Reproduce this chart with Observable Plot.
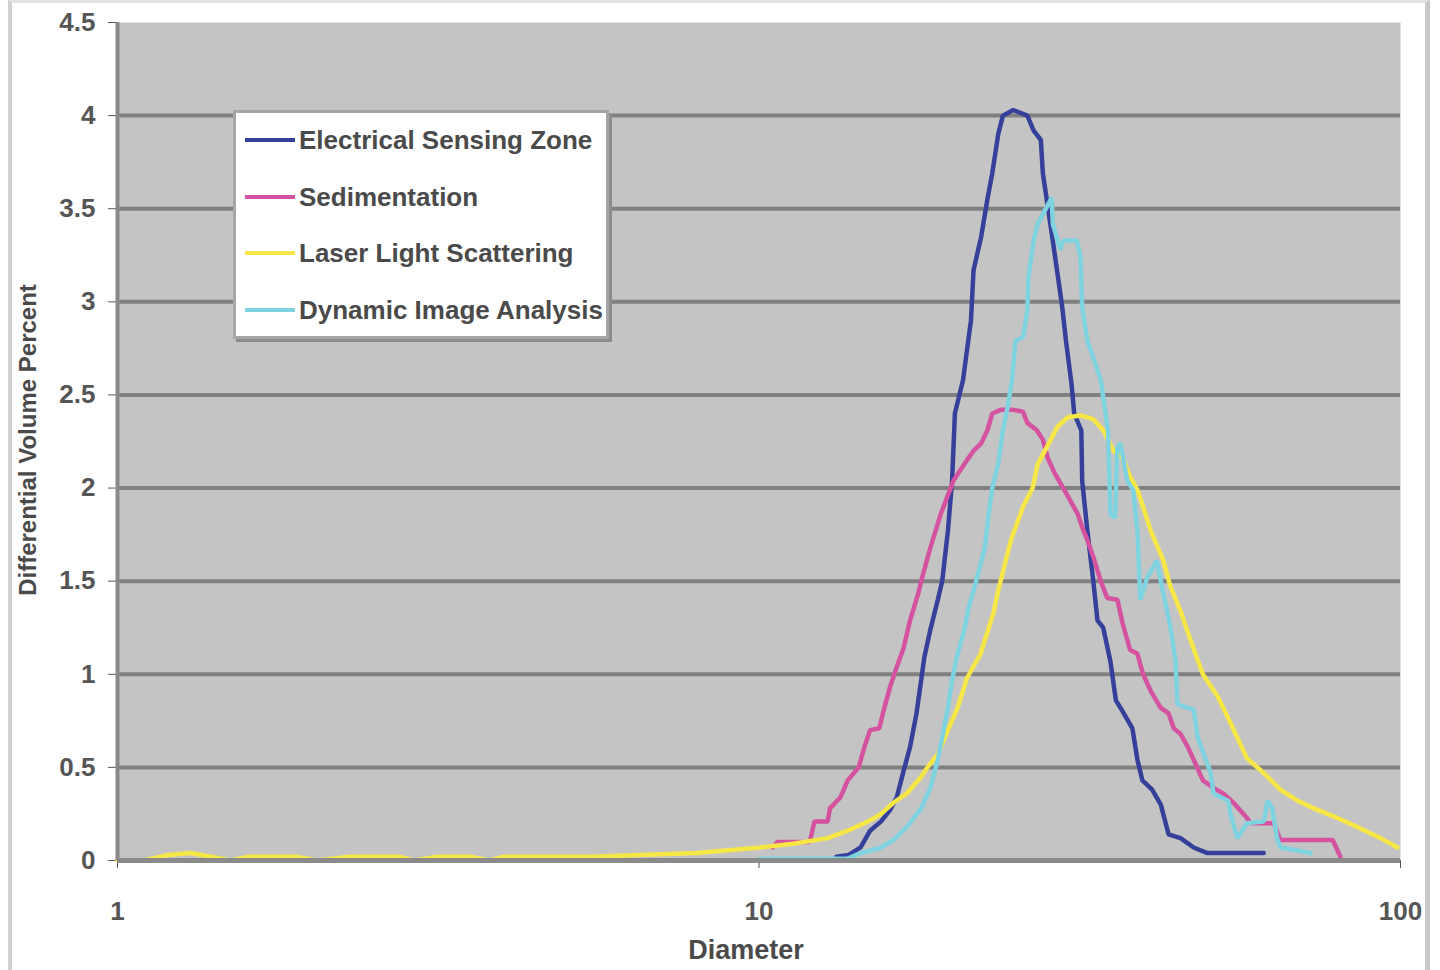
<!DOCTYPE html>
<html><head><meta charset="utf-8">
<script src="https://cdn.jsdelivr.net/npm/d3@7"></script>
<script src="https://cdn.jsdelivr.net/npm/@observablehq/plot@0.6"></script>
<style>
html,body{margin:0;padding:0;background:#fff;}
#wrap{position:relative;width:1440px;height:970px;overflow:hidden;font-family:"Liberation Sans",Arial,sans-serif;}
#border{position:absolute;left:8px;top:0;width:1422px;height:970px;border-left:4px solid #d0d0d0;border-right:5px solid #c8c8c8;border-top:3px solid #e2e2e2;box-sizing:border-box;pointer-events:none;}
#chart{position:absolute;left:0;top:0;}
#legend{position:absolute;left:233px;top:110px;width:376px;height:229px;background:#fff;border:3px solid #a6a6a6;box-shadow:3px 3px 0 #8c8c8c;box-sizing:border-box;overflow:hidden;}
.row{position:absolute;left:9px;height:30px;display:flex;align-items:center;white-space:nowrap;font-weight:bold;font-size:26px;color:#4a4a4a;}
.sw{display:inline-block;width:50px;height:4px;margin-right:4px;flex:none;}
#ylab{position:absolute;left:28px;top:440px;transform:translate(-50%,-50%) rotate(-90deg);white-space:nowrap;font-weight:bold;font-size:24px;color:#4a4a4a;}
#xlab{position:absolute;left:746px;top:950px;transform:translate(-50%,-50%);white-space:nowrap;font-weight:bold;font-size:27px;color:#4a4a4a;}
</style></head>
<body>
<div id="wrap">
  <div id="chart"></div>
  <div id="border"></div>
  <div id="legend"></div>
  <div id="ylab">Differential Volume Percent</div>
  <div id="xlab">Diameter</div>
</div>
<script>
// ---- data ----
const seriesNames = ["Electrical Sensing Zone", "Sedimentation", "Laser Light Scattering", "Dynamic Image Analysis"];
const seriesColors = ["#34409a", "#d4529f", "#f6e646", "#7fd2df"];
const yTicks = [0, 0.5, 1, 1.5, 2, 2.5, 3, 3.5, 4, 4.5];
const xTicks = [1, 10, 100];

const eszDiameter = [13.2,13.8,14.4,14.9,15.5,16.0,16.4,16.8,17.2,17.6,17.9,18.1,18.5,19.0,19.3,19.7,20.0,20.2,20.8,21.4,21.6,22.2,22.7,23.1,23.6,24.0,24.9,26.2,26.8,27.5,27.7,28.2,28.7,29.2,29.7,30.1,30.7,31.0,31.8,31.9,32.5,33.2,33.7,34.4,35.3,36.0,36.9,38.2,38.9,39.6,41.0,42.3,43.5,45.4,47.6,50.0,56.0,61.2];
const eszValue = [0.02,0.03,0.07,0.16,0.21,0.27,0.34,0.48,0.61,0.79,0.97,1.09,1.24,1.40,1.50,1.77,2.04,2.40,2.58,2.90,3.17,3.35,3.55,3.69,3.90,4.00,4.03,4.00,3.92,3.87,3.69,3.51,3.33,3.15,2.97,2.79,2.56,2.40,2.31,2.04,1.77,1.50,1.29,1.25,1.07,0.86,0.80,0.71,0.54,0.43,0.38,0.30,0.14,0.12,0.07,0.04,0.04,0.04];

const sedDiameter = [10.5,10.7,12.0,12.2,12.8,12.9,13.4,13.75,14.3,14.6,14.9,15.4,15.6,16.0,16.4,16.8,17.2,17.7,17.9,18.5,19.2,20.1,21.1,21.6,22.2,22.7,23.1,23.8,24.9,25.8,26.2,27.1,27.7,28.2,28.9,29.8,30.6,31.4,31.9,32.5,33.2,34.1,34.9,36.2,36.9,37.9,38.9,39.7,40.8,42.3,43.5,44.3,45.4,46.6,47.9,49.2,51.1,52.9,54.9,57.6,58.4,63.4,65.0,78.4,80.6];
const sedValue = [0.07,0.10,0.10,0.21,0.21,0.28,0.34,0.43,0.50,0.61,0.70,0.71,0.79,0.93,1.04,1.14,1.29,1.43,1.50,1.68,1.86,2.04,2.15,2.20,2.24,2.31,2.40,2.42,2.42,2.41,2.35,2.31,2.26,2.16,2.08,2.00,1.93,1.86,1.79,1.72,1.63,1.50,1.41,1.40,1.27,1.13,1.11,1.00,0.91,0.82,0.79,0.71,0.68,0.61,0.52,0.43,0.39,0.36,0.31,0.23,0.20,0.20,0.11,0.11,0.02];

const llsDiameter = [1.0,1.1,1.2,1.3,1.4,1.5,1.6,1.9,2.05,2.3,2.75,2.9,3.15,3.55,3.8,4.0,5.5,6.5,8.0,10.05,11.3,12.8,13.75,14.8,15.5,16.2,17.0,17.9,18.3,19.0,19.7,20.4,21.1,22.15,23.2,23.6,24.7,25.8,26.7,27.2,28.1,29.2,30.3,31.7,33.2,34.4,35.7,36.9,37.9,38.9,39.7,40.8,42.7,43.8,45.4,47.1,49.2,51.9,54.3,57.6,61.2,65.0,69.2,73.3,79.5,85.6,93.1,98.9];
const llsValue = [0,0,0.03,0.04,0.02,0,0.02,0.02,0,0.02,0.02,0,0.02,0.02,0,0.02,0.02,0.03,0.04,0.07,0.09,0.12,0.16,0.21,0.25,0.31,0.36,0.45,0.50,0.57,0.70,0.82,0.98,1.11,1.33,1.45,1.72,1.90,2.00,2.13,2.22,2.33,2.38,2.39,2.37,2.31,2.20,2.16,2.06,1.99,1.90,1.77,1.61,1.47,1.34,1.18,1.00,0.88,0.74,0.55,0.47,0.38,0.32,0.28,0.23,0.18,0.12,0.07];

const diaDiameter = [10.05,13.75,14.4,15.5,16.2,17.0,17.9,18.5,19.0,19.4,19.7,20.0,20.4,20.9,21.2,21.8,22.5,22.8,23.1,23.6,24.0,24.4,24.8,25.1,25.8,26.2,26.3,26.8,27.2,28.1,28.6,28.7,29.2,29.5,29.8,31.3,31.7,31.9,32.5,33.2,34.1,34.4,35.0,35.3,35.9,36.2,36.6,37.5,38.3,38.9,39.3,40.3,41.7,42.3,43.8,44.6,44.9,46.6,47.6,48.3,50.6,51.1,53.9,54.3,55.7,57.6,61.2,62.1,63.1,64.2,65.0,72.4];
const diaValue = [0.01,0.01,0.04,0.07,0.11,0.18,0.28,0.39,0.54,0.70,0.82,0.97,1.11,1.24,1.35,1.50,1.68,1.86,2.00,2.13,2.31,2.43,2.58,2.79,2.81,2.95,3.13,3.33,3.42,3.51,3.56,3.42,3.33,3.28,3.33,3.33,3.24,2.97,2.79,2.70,2.58,2.49,2.31,1.86,1.84,2.22,2.24,2.04,1.99,1.77,1.40,1.52,1.61,1.50,1.25,1.07,0.84,0.82,0.81,0.66,0.47,0.36,0.32,0.25,0.12,0.20,0.21,0.32,0.28,0.12,0.07,0.04];

// ---- build ----
const seriesX = [eszDiameter, sedDiameter, llsDiameter, diaDiameter];
const seriesY = [eszValue, sedValue, llsValue, diaValue];
const tables = seriesX.map((xs, i) => xs.map((d, j) => ({d, v: seriesY[i][j], s: seriesNames[i]})));

const chart = Plot.plot({
  width: 1440, height: 970,
  marginLeft: 117, marginRight: 40, marginTop: 22, marginBottom: 110,
  style: {fontFamily: '"Liberation Sans", Arial, sans-serif', fontSize: "26px", fontWeight: "bold", color: "#555", background: "transparent", overflow: "visible"},
  x: {type: "log", domain: [1, 100], ticks: xTicks, tickFormat: d => String(d), label: null, tickSize: 8, tickPadding: 33},
  y: {domain: [0, 4.5], ticks: yTicks, tickFormat: d => String(d), label: null, tickSize: 9, tickPadding: 13},
  marks: [
    Plot.frame({fill: "#c4c4c4", stroke: null}),
    Plot.ruleY(yTicks.filter(t => t > 0 && t < 4.5), {stroke: "#808080", strokeWidth: 4}),
    ...tables.map((t, i) => Plot.line(t, {x: "d", y: "v", stroke: seriesColors[i], strokeWidth: 4.5, strokeLinejoin: "miter"})),
    Plot.ruleY([0], {stroke: "#8a8a8a", strokeWidth: 5}),
    Plot.ruleX([1], {stroke: "#8a8a8a", strokeWidth: 4})
  ]
});
document.getElementById("chart").appendChild(chart);

// legend
const legend = document.getElementById("legend");
const rowCenters = [27, 84, 140, 197];
seriesNames.forEach((name, i) => {
  const row = document.createElement("div");
  row.className = "row";
  row.style.top = (rowCenters[i] - 15) + "px";
  const sw = document.createElement("span");
  sw.className = "sw";
  sw.style.background = seriesColors[i];
  const tx = document.createElement("span");
  tx.textContent = name;
  row.appendChild(sw);
  row.appendChild(tx);
  legend.appendChild(row);
});
</script>
</body></html>
